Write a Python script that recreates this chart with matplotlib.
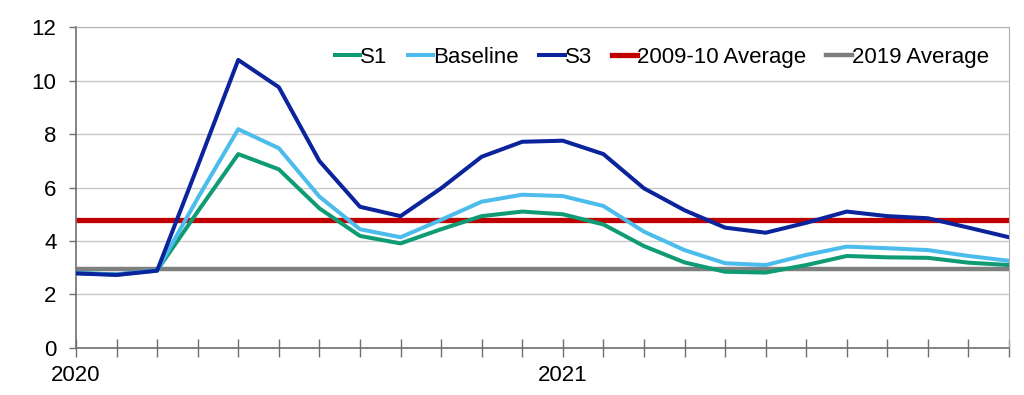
import matplotlib
matplotlib.use("Agg")
import matplotlib.pyplot as plt
import numpy as np

plt.rcParams['font.family'] = ['Liberation Sans', 'DejaVu Sans']

# monthly, Jan 2020 .. Dec 2021
months = np.arange(24)
tick_labels = {0: '2020', 12: '2021'}

s1 = [2.8, 2.75, 2.9, 5.1, 7.25, 6.68, 5.22, 4.19, 3.91, 4.44, 4.93, 5.1,
      5.0, 4.62, 3.81, 3.2, 2.85, 2.82, 3.1, 3.44, 3.39, 3.37, 3.19, 3.1]
baseline = [2.8, 2.75, 2.9, 5.6, 8.18, 7.47, 5.66, 4.44, 4.14, 4.79, 5.47, 5.73,
            5.68, 5.31, 4.35, 3.66, 3.17, 3.1, 3.48, 3.79, 3.73, 3.66, 3.44, 3.26]
s3 = [2.79, 2.73, 2.89, 6.8, 10.77, 9.75, 6.99, 5.28, 4.93, 5.97, 7.15, 7.71,
      7.75, 7.25, 5.97, 5.15, 4.5, 4.31, 4.68, 5.1, 4.93, 4.85, 4.5, 4.14]
avg_0910 = 4.77
avg_2019 = 2.95

fig = plt.figure(figsize=(10.24, 3.95), dpi=100)
ax = fig.add_axes([0.0742, 0.119, 0.9112, 0.8126])

ax.axhline(avg_2019, color='#7f7f7f', lw=3.2, zorder=2, label='2019 Average')
ax.axhline(avg_0910, color='#c00000', lw=3.8, zorder=2, label='2009-10 Average')
ax.plot(months, s1, color='#0f9b74', lw=2.9, zorder=3, label='S1')
ax.plot(months, baseline, color='#4cbcec', lw=2.9, zorder=3, label='Baseline')
ax.plot(months, s3, color='#0b249c', lw=2.9, zorder=3, label='S3')

ax.set_xlim(0, 23)
ax.set_ylim(0, 12)
ax.set_yticks(np.arange(0, 13, 2))
ax.set_xticks(months)
ax.set_xticklabels([tick_labels.get(m, '') for m in months])
ax.yaxis.grid(True, color='#c8c8c8', lw=1)
ax.set_axisbelow(True)

for s in ['top', 'right']:
    ax.spines[s].set_color('#b0b0b0')
for s in ['left', 'bottom']:
    ax.spines[s].set_color('#707070')
    ax.spines[s].set_linewidth(1.2)
ax.tick_params(axis='x', direction='inout', length=13, width=1, color='#707070',
               labelsize=16, pad=6)
ax.tick_params(axis='y', direction='out', length=5, width=1, color='#707070',
               labelsize=16, pad=9)

h, l = ax.get_legend_handles_labels()
order = ['S1', 'Baseline', 'S3', '2009-10 Average', '2019 Average']
hs = [h[l.index(n)] for n in order]
ax.legend(hs, order, loc='upper right', ncol=5, frameon=False, fontsize=16,
          handlelength=1.15, handletextpad=0.0, columnspacing=0.9,
          bbox_to_anchor=(1.0, 1.0))

fig.savefig('out.png', dpi=100)
